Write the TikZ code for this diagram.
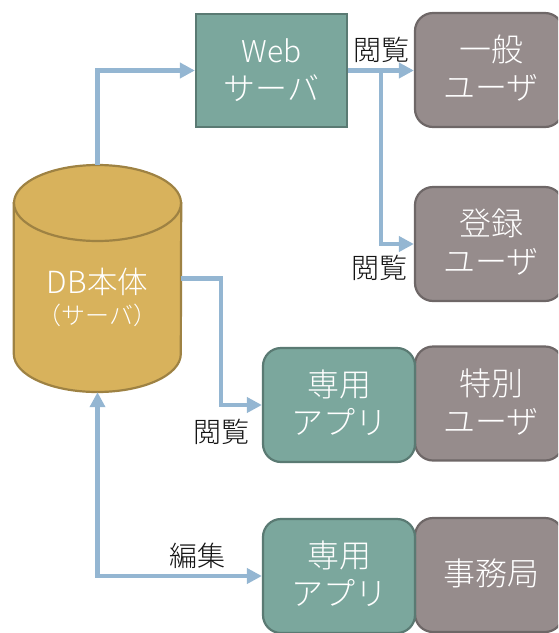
\documentclass[tikz,border=0pt]{standalone}
\usepackage{fontspec}
\setmainfont{Noto Sans CJK JP Light}
\usetikzlibrary{arrows.meta}
\definecolor{green1}{HTML}{7BA79D}
\definecolor{green2}{HTML}{5A7A73}
\definecolor{grey1}{HTML}{968C8C}
\definecolor{grey2}{HTML}{6E6767}
\definecolor{gold1}{HTML}{D8B25C}
\definecolor{gold2}{HTML}{9E8243}
\definecolor{link}{HTML}{94B6D2}
\newcommand\liftup[1]{\raisebox{0pt}[\dimexpr\height+6pt\relax][\depth]{\begin{tabular}{@{}c@{}}#1\end{tabular}}}
\newcommand\liftuser[1]{\hspace*{4pt}\liftup{#1}}
\tikzset{
  base/.style={draw,line width=2.2pt,minimum width=#1,inner sep=0pt,text=white,align=center,font=\fontsize{32}{38}\selectfont},
  server/.style={base=151pt,fill=green1,draw=green2,minimum height=113pt},
  app/.style={base=152pt,fill=green1,draw=green2,minimum height=114pt,rounded corners=18pt},
  user/.style={base=148pt,fill=grey1,draw=grey2,minimum height=114pt,rounded corners=18pt},
  conn/.style={draw=link,line width=4.4pt,-{Triangle[length=15pt,width=15pt]}},
  connb/.style={draw=link,line width=4.4pt,{Triangle[length=15pt,width=15pt]}-{Triangle[length=15pt,width=15pt]}},
  lab/.style={text=black!92,inner sep=0pt,font=\fontsize{28}{34}\selectfont}
}
\begin{document}
\begin{tikzpicture}[x=1pt,y=-1pt]
\useasboundingbox (0,0) rectangle (558,633);
\clip (0,0) rectangle (558,633);
% database body
\node[minimum width=167pt,minimum height=227pt,inner sep=0pt] (db) at (97.5,278.5) {};
\draw[fill=gold1,draw=gold2,line width=2.2pt]
  (db.north west |- 0,203) -- (db.south west |- 0,354)
  arc[x radius=83.5pt,y radius=38pt,start angle=180,end angle=360]
  -- (db.north east |- 0,203) -- cycle;
\draw[fill=gold1,draw=gold2,line width=2.2pt] (97.5,203) ellipse[x radius=83.5pt,y radius=38pt];
\node[text=white,inner sep=0pt,font=\fontsize{30.5}{34}\selectfont] (dbt) at (97.5,282) {DB本体};
\node[text=white,inner sep=0pt,font=\fontsize{24}{28}\selectfont] (dbs) at (97.5,315) {（サーバ）};
% boxes
\node[server] (web) at (271.5,70.5) {\liftup{{\fontsize{30}{38}\selectfont Web}\\サーバ}};
\node[user] (u1) at (489,70) {\liftuser{一般\\ユーザ}};
\node[user] (u2) at (489,244) {\liftuser{登録\\ユーザ}};
\node[user] (u3) at (489,403.5) {\liftuser{特別\\ユーザ}};
\node[user] (u4) at (489,575) {\liftuser{事務局}};
\node[app] (a1) at (339,405) {\liftup{専用\\アプリ}};
\node[app] (a2) at (339,576) {\liftup{専用\\アプリ}};
% junctions
\coordinate (j1) at (381,70.5);
\coordinate (j2) at (221,278.5);
% connectors
\draw[conn] (db.north) |- (web.west);
\draw[conn] (web.east) -- (u1.west |- web.east);
\draw[conn] (j1) |- (u2.west);
\draw[conn] (db.east) -- (j2) |- (a1.west);
\draw[connb] (db.south) |- (a2.west);
% labels
\node[lab] (l1) at (381,49.5) {閲覧};
\node[lab] (l2) at (379,268) {閲覧};
\node[lab] (l3) at (221,431.5) {閲覧};
\node[lab] (l4) at (197,556) {編集};
\end{tikzpicture}
\end{document}
